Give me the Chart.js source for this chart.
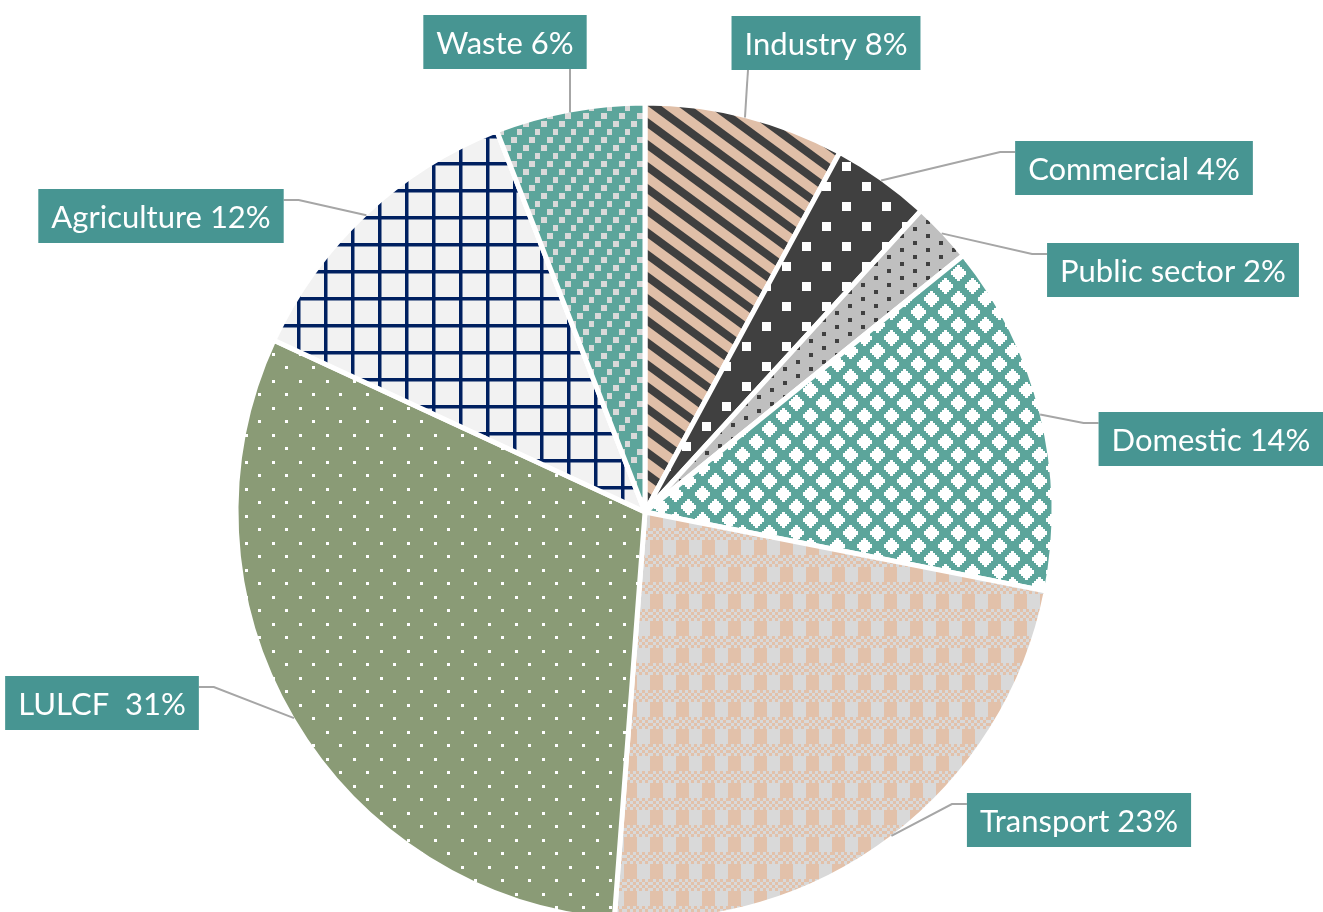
<!DOCTYPE html>
<html>
<head>
<meta charset="utf-8">
<script src="https://cdn.jsdelivr.net/npm/chart.js@4"></script>
<style>
  html, body { margin: 0; padding: 0; background: #ffffff; overflow: hidden; }
  #wrap { position: relative; width: 1323px; height: 1024px; }
</style>
</head>
<body>
<div id="wrap"><canvas id="c"></canvas></div>
<script>
// ---- Data ----
const categories = ['Industry', 'Commercial', 'Public sector', 'Domestic', 'Transport', 'LULCF', 'Agriculture', 'Waste'];
const shares = [7.9, 3.9, 2.4, 13.9, 23.1, 30.7, 12.2, 5.9];
const labelTexts = ['Industry 8%', 'Commercial 4%', 'Public sector 2%', 'Domestic 14%', 'Transport 23%', 'LULCF  31%', 'Agriculture 12%', 'Waste 6%'];

// ---- Label layout (box centre offset from pie centre, and side of the pie) ----
const labelOffsets = [[181, -469], [489, -344], [528, -242], [566, -73], [434, 308], [-543, 191], [-484, -296], [-140, -470]];
const labelSides = ['top', 'right', 'right', 'right', 'right', 'left', 'left', 'top'];

// ---- Pattern fills ----
function tile(w, h, draw) {
  const c = document.createElement('canvas');
  c.width = w; c.height = h;
  const g = c.getContext('2d');
  draw(g, w, h);
  return document.createElement('canvas').getContext('2d').createPattern(c, 'repeat');
}
const patIndustry = tile(30, 22, (g, w, h) => {
  g.fillStyle = '#E0BFA8'; g.fillRect(0, 0, w, h);
  g.strokeStyle = '#3F3F3F'; g.lineWidth = 8;
  for (let k = -1; k <= 1; k++) { g.beginPath(); g.moveTo(k * w - w, -h); g.lineTo(k * w + 2 * w, 2 * h); g.stroke(); }
});
const patCommercial = tile(40, 40, (g, w, h) => {
  g.fillStyle = '#404040'; g.fillRect(0, 0, w, h);
  g.fillStyle = '#FFFFFF'; g.fillRect(2, 2, 9, 9); g.fillRect(22, 22, 9, 9);
});
const patPublic = tile(26, 14, (g, w, h) => {
  g.fillStyle = '#BFBFBF'; g.fillRect(0, 0, w, h);
  g.fillStyle = '#404040'; g.fillRect(3, 3, 4, 4); g.fillRect(16, 10, 4, 4);
});
const patDomestic = tile(27, 26, (g, w, h) => {
  g.fillStyle = '#5CA59B'; g.fillRect(0, 0, w, h);
  g.fillStyle = '#FFFFFF';
  const pts = [[0, 0], [w, 0], [0, h], [w, h], [w / 2, h / 2]];
  const r = 8;
  pts.forEach(([x, y]) => {
    for (let i = -r; i < r; i += 2) {
      const half = r - Math.abs(i + 1) + 0.5;
      g.fillRect(Math.round(x - half), y + i, Math.round(half * 2), 2);
    }
  });
});
const patTransport = tile(26, 27, (g, w, h) => {
  const beige = '#E2C1AA', grey = '#D9D9D9';
  g.fillStyle = beige; g.fillRect(0, 0, 13, 15);
  g.fillStyle = grey; g.fillRect(13, 0, 13, 15);
  for (let y = 15; y < 27; y += 3) {
    for (let x = 0; x < 26; x += 3) {
      g.fillStyle = (((x / 3) + ((y - 15) / 3)) % 2 === 0) ? beige : grey;
      g.fillRect(x, y, 3, 3);
    }
  }
});
const patLULCF = tile(27, 27, (g, w, h) => {
  g.fillStyle = '#8A9B76'; g.fillRect(0, 0, w, h);
  g.fillStyle = '#FFFFFF'; g.fillRect(2, 2, 3, 3); g.fillRect(15, 15, 3, 3);
});
const patAgriculture = tile(27, 27, (g, w, h) => {
  g.fillStyle = '#F2F2F2'; g.fillRect(0, 0, w, h);
  g.fillStyle = '#002060'; g.fillRect(0, 0, 3.5, h); g.fillRect(0, 0, w, 3.5);
});
const patWaste = tile(18, 24, (g, w, h) => {
  g.fillStyle = '#5CA59B'; g.fillRect(0, 0, w, h);
  g.fillStyle = '#D9D9D9';
  [[0, 0], [12, 8], [6, 16]].forEach(([x, y]) => { g.fillRect(x + 1, y + 1, 6, 6); });
});
const fills = [patIndustry, patCommercial, patPublic, patDomestic, patTransport, patLULCF, patAgriculture, patWaste];

// ---- Callout label plugin ----
const calloutPlugin = {
  id: 'callouts',
  afterDatasetsDraw(chart) {
    const ctx = chart.ctx;
    const arcs = chart.getDatasetMeta(0).data;
    ctx.save();
    ctx.font = '31px Lato, "Open Sans", sans-serif';
    const padX = 13, boxH = 54;
    arcs.forEach((arc, i) => {
      const p = arc.getProps(['x', 'y', 'startAngle', 'endAngle', 'outerRadius'], true);
      const mid = (p.startAngle + p.endAngle) / 2;
      const ax = p.x + Math.cos(mid) * (p.outerRadius - 2);
      const ay = p.y + Math.sin(mid) * (p.outerRadius - 2);
      const tw = ctx.measureText(labelTexts[i]).width;
      const bw = tw + padX * 2;
      const cx = p.x + labelOffsets[i][0];
      const cy = p.y + labelOffsets[i][1];
      const left = cx - bw / 2, top = cy - boxH / 2;
      ctx.strokeStyle = '#A6A6A6';
      ctx.lineWidth = 2;
      ctx.beginPath();
      ctx.moveTo(ax, ay);
      if (labelSides[i] === 'top') {
        ctx.lineTo(ax + (ax > p.x ? 3 : 0), top + boxH);
      } else if (labelSides[i] === 'right') {
        ctx.lineTo(left - 15, top + 11);
        ctx.lineTo(left, top + 11);
      } else {
        ctx.lineTo(left + bw + 15, top + 11);
        ctx.lineTo(left + bw, top + 11);
      }
      ctx.stroke();
      ctx.fillStyle = '#479592';
      ctx.fillRect(left, top, bw, boxH);
      ctx.fillStyle = '#FFFFFF';
      ctx.textBaseline = 'alphabetic';
      ctx.textAlign = 'left';
      ctx.fillText(labelTexts[i], left + padX, cy + 11.5);
    });
    ctx.restore();
  }
};

new Chart(document.getElementById('c'), {
  type: 'pie',
  data: {
    labels: categories,
    datasets: [{
      data: shares,
      backgroundColor: fills,
      borderColor: '#FFFFFF',
      borderWidth: 5,
      hoverOffset: 0
    }]
  },
  options: {
    responsive: true,
    maintainAspectRatio: false,
    animation: false,
    events: [],
    radius: 409,
    layout: { padding: { left: 239, right: 272, top: 106, bottom: 106 } },
    plugins: {
      legend: { display: false },
      tooltip: { enabled: false },
      title: { display: false }
    }
  },
  plugins: [calloutPlugin]
});
</script>
</body>
</html>
